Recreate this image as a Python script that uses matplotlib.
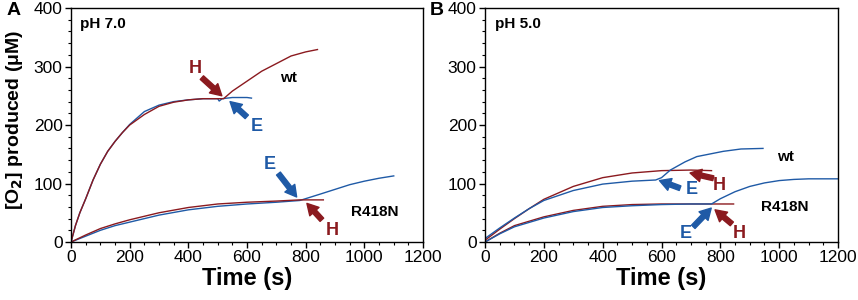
import matplotlib.pyplot as plt
from matplotlib.ticker import MultipleLocator

plt.rcParams['font.family'] = ['Liberation Sans', 'DejaVu Sans']

RED = '#8b1a1f'
BLUE = '#1f5aa6'

# ---- panel A (pH 7.0) ----
a_wt_h_t = [0, 15, 30, 50, 75, 100, 125, 150, 175, 200, 250, 300, 350, 400, 450, 500, 520, 550, 600, 650, 700, 750, 800, 840]
a_wt_h_v = [0, 28, 50, 74, 106, 133, 155, 172, 187, 200, 218, 232, 239, 243, 245, 245, 245, 258, 275, 292, 305, 318, 325, 329]
a_wt_e_t = [0, 15, 30, 50, 75, 100, 125, 150, 175, 200, 250, 300, 350, 400, 450, 500, 505, 515, 550, 600, 615]
a_wt_e_v = [0, 28, 50, 74, 106, 133, 155, 172, 187, 201, 223, 234, 240, 243, 245, 245, 241, 245, 247, 247, 246]

a_mut_h_t = [0, 50, 100, 150, 200, 300, 400, 500, 600, 700, 780, 860]
a_mut_h_v = [0, 12, 23, 31, 38, 50, 59, 65, 68, 70, 72, 72]
a_mut_e_t = [0, 50, 100, 150, 200, 300, 400, 500, 600, 700, 780, 850, 900, 950, 1000, 1050, 1100]
a_mut_e_v = [0, 10, 20, 28, 34, 46, 55, 61, 65, 68, 71, 82, 90, 98, 104, 109, 113]

# ---- panel B (pH 5.0) ----
b_wt_h_t = [0, 50, 100, 150, 200, 300, 400, 500, 600, 700, 770]
b_wt_h_v = [3, 22, 40, 57, 73, 95, 110, 118, 122, 123, 122]
b_wt_e_t = [0, 50, 100, 150, 200, 300, 400, 500, 580, 600, 630, 680, 720, 770, 810, 870, 945]
b_wt_e_v = [6, 24, 41, 57, 71, 88, 99, 104, 106, 110, 123, 137, 146, 151, 155, 159, 160]

b_mut_h_t = [0, 50, 100, 200, 300, 400, 500, 600, 700, 845]
b_mut_h_v = [0, 15, 28, 43, 54, 61, 64, 65, 65, 65]
b_mut_e_t = [0, 50, 100, 200, 300, 400, 500, 600, 700, 770, 800, 850, 900, 950, 1000, 1050, 1100, 1200]
b_mut_e_v = [0, 14, 26, 41, 52, 59, 62, 64, 65, 65, 74, 86, 95, 101, 105, 107, 108, 108]

fig = plt.figure(figsize=(8.58, 3.0), dpi=100)
axA = fig.add_axes([0.0828, 0.1933, 0.4103, 0.78])
axB = fig.add_axes([0.5653, 0.1933, 0.4114, 0.78])

axA.plot(a_wt_e_t, a_wt_e_v, color=BLUE, lw=1.0)
axA.plot(a_wt_h_t, a_wt_h_v, color=RED, lw=1.0)
axA.plot(a_mut_e_t, a_mut_e_v, color=BLUE, lw=1.0)
axA.plot(a_mut_h_t, a_mut_h_v, color=RED, lw=1.0)

axB.plot(b_wt_h_t, b_wt_h_v, color=RED, lw=1.0)
axB.plot(b_wt_e_t, b_wt_e_v, color=BLUE, lw=1.0)
axB.plot(b_mut_h_t, b_mut_h_v, color=RED, lw=1.0)
axB.plot(b_mut_e_t, b_mut_e_v, color=BLUE, lw=1.0)


def arrow(ax, label, txt_xy, tail, tip, color):
    # bold letter plus a fat arrow pointing at the addition time
    ax.text(*txt_xy, label, color=color, fontsize=13, fontweight='bold', ha='center', va='center')
    ax.annotate('', xy=tip, xytext=tail,
                arrowprops=dict(arrowstyle='simple,head_width=0.9,head_length=0.8,tail_width=0.35',
                                color=color, shrinkA=0, shrinkB=0, mutation_scale=10))


arrow(axA, 'H', (423, 297), (446, 281), (514, 250), RED)
arrow(axA, 'E', (633, 197), (599, 214), (542, 240), BLUE)
arrow(axA, 'E', (678, 132), (707, 117), (769, 77), BLUE)
arrow(axA, 'H', (889, 20), (855, 38), (804, 66), RED)

arrow(axB, 'E', (703, 89), (663, 92), (593, 105), BLUE)
arrow(axB, 'H', (797, 97), (776, 109), (697, 118), RED)
arrow(axB, 'E', (684, 15), (708, 26), (769, 58), BLUE)
arrow(axB, 'H', (865, 15), (839, 31), (782, 55), RED)

axA.text(740, 280, 'wt', fontsize=11, fontweight='bold', ha='center', va='center')
axA.text(1036, 52, 'R418N', fontsize=11, fontweight='bold', ha='center', va='center')
axA.text(30, 372, 'pH 7.0', fontsize=11, fontweight='bold', ha='left', va='center')

axB.text(1020, 146, 'wt', fontsize=11, fontweight='bold', ha='center', va='center')
axB.text(1020, 60, 'R418N', fontsize=11, fontweight='bold', ha='center', va='center')
axB.text(34, 372, 'pH 5.0', fontsize=11, fontweight='bold', ha='left', va='center')

for ax in (axA, axB):
    ax.set_xlim(0, 1200)
    ax.set_ylim(0, 400)
    ax.xaxis.set_major_locator(MultipleLocator(200))
    ax.xaxis.set_minor_locator(MultipleLocator(50))
    ax.yaxis.set_major_locator(MultipleLocator(100))
    ax.yaxis.set_minor_locator(MultipleLocator(20))
    ax.tick_params(which='major', direction='out', length=4, width=1, labelsize=12.5, pad=2)
    ax.tick_params(which='minor', direction='out', length=2.5, width=0.8)
    for sp in ax.spines.values():
        sp.set_linewidth(1.0)
    ax.set_xlabel('Time (s)', fontsize=17, fontweight='bold', labelpad=1)

axA.set_ylabel('[O$_\\mathbf{2}$] produced (\u03bcM)', fontsize=14, fontweight='bold')
axA.yaxis.set_label_coords(-0.13, 0.52)

fig.text(0.008, 0.965, 'A', fontsize=14, fontweight='bold', va='center', ha='left')
fig.text(0.501, 0.965, 'B', fontsize=14, fontweight='bold', va='center', ha='left')

fig.savefig('out.png', dpi=100)
